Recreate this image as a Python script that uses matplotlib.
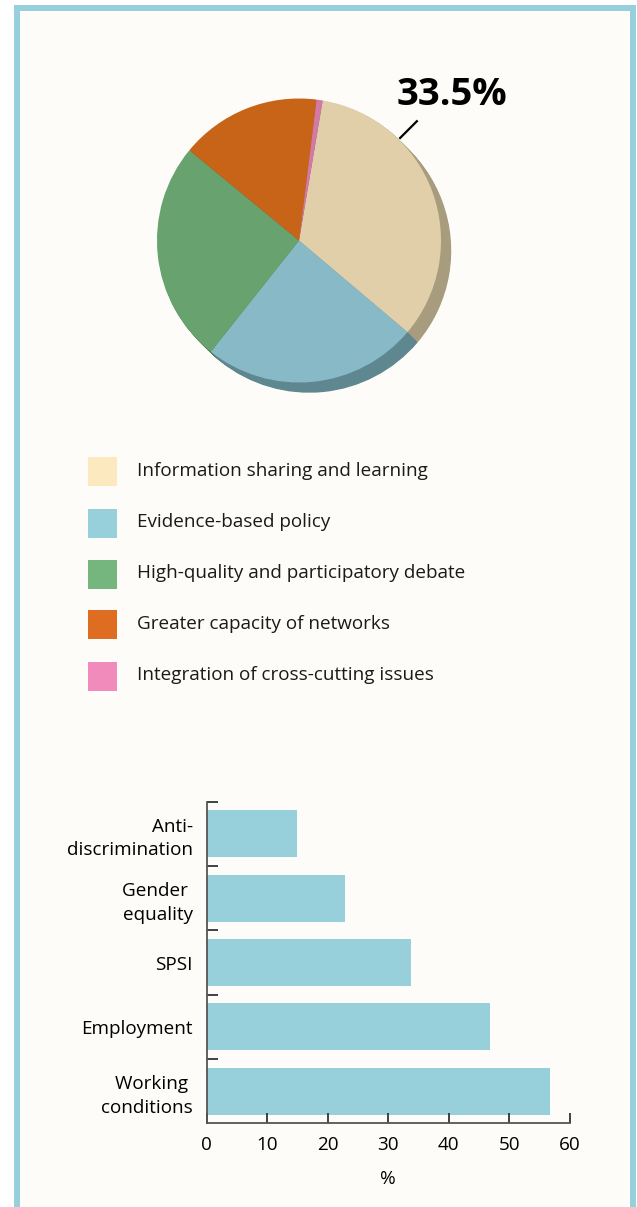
import matplotlib
matplotlib.use("Agg")
import matplotlib.pyplot as plt
from matplotlib.patches import Rectangle

plt.rcParams['font.family'] = ['Open Sans', 'DejaVu Sans']

# Pie: shares of reported outcomes (%), clockwise from the top
outcomes = ["Information sharing and learning",
            "Evidence-based policy",
            "High-quality and participatory debate",
            "Greater capacity of networks",
            "Integration of cross-cutting issues"]
shares = [33.5, 24.5, 25.3, 16.0, 0.7]

pie_colors = ["#e0cfa8", "#87b9c6", "#67a26f", "#c86418", "#d479a3"]
side_colors = ["#a89c7e", "#5f8790", "#4a7a52", "#8f4a12", "#9a5777"]
legend_colors = ["#fde9bf", "#97cfdb", "#75b67e", "#df6d21", "#f08bbb"]

# Bars: thematic areas (%)
themes = ["Working \nconditions", "Employment", "SPSI", "Gender \nequality", "Anti-\ndiscrimination"]
theme_pct = [56.7, 46.8, 33.7, 22.8, 14.9]
x_ticks = [0, 10, 20, 30, 40, 50, 60]

W, H = 637, 1207
fig = plt.figure(figsize=(W / 100, H / 100), dpi=100)
fig.patch.set_facecolor("white")

# panel background with blue frame
fig.patches.append(Rectangle((17 / W, -0.05), (632.5 - 17) / W, 1.05 - 8 / H,
                             transform=fig.transFigure, facecolor="#fdfcf8",
                             edgecolor="#96d0dc", linewidth=4.3, zorder=-5))

# ---- pie ----
cx, cy, r = 299, 240.5, 142
lim = 1.2
ax = fig.add_axes([(cx - lim * r) / W, 1 - (cy + lim * r) / H, 2 * lim * r / W, 2 * lim * r / H])

start = 90 - 9.6
depth = 0.072
n_layers = 14
for i in range(n_layers, 0, -1):
    off = depth * i / n_layers
    ax.pie(shares, colors=side_colors, startangle=start, counterclock=False,
           center=(off, -off), radius=1.0, frame=True,
           wedgeprops=dict(linewidth=0))
ax.pie(shares, colors=pie_colors, startangle=start, counterclock=False,
       center=(0, 0), radius=1.0, frame=True,
       wedgeprops=dict(linewidth=0))
ax.set_xlim(-lim, lim)
ax.set_ylim(-lim, lim)
ax.set_aspect("equal")
ax.axis("off")

ax.plot([0.712, 0.83], [0.722, 0.84], color="black", lw=1.6)
ax.text(0.69, 1.025, f"{shares[0]}%", fontsize=27.5, fontweight="bold",
        ha="left", va="center")

# ---- legend ----
leg_y = [471.5, 523, 574, 625, 676.5]
for name, col, y in zip(outcomes, legend_colors, leg_y):
    fig.patches.append(Rectangle((88 / W, 1 - (y + 14.5) / H), 29 / W, 29 / H,
                                 transform=fig.transFigure, facecolor=col,
                                 edgecolor="none"))
    fig.text(137 / W, 1 - (y - 1) / H, name, fontsize=13.6, ha="left", va="center",
             color="#1a1a1a")

# ---- bars ----
bx = fig.add_axes([206.7 / W, 1 - 1123.3 / H, (570 - 206.7) / W, (1123.3 - 801.7) / H])
bx.set_facecolor("none")
pos = list(range(len(themes)))
bx.barh(pos, theme_pct, height=0.73, color="#97cfdb")
bx.set_xlim(0, 60)
bx.set_ylim(-0.5, len(themes) - 0.5)
bx.set_xticks(x_ticks)
bx.set_xticklabels([str(t) for t in x_ticks], fontsize=13.6)
bx.set_yticks(pos)
bx.set_yticklabels(themes, fontsize=13.6, linespacing=1.4)
bx.set_yticks([p + 0.5 for p in pos], minor=True)
bx.tick_params(axis="y", which="major", length=0, pad=10)
bx.tick_params(axis="y", which="minor", direction="in", length=8, width=1.3, color="#333333")
bx.tick_params(axis="x", direction="in", length=7.5, width=1.3, color="#333333", pad=9)
for s in ("top", "right"):
    bx.spines[s].set_visible(False)
for s in ("left", "bottom"):
    bx.spines[s].set_color("#555555")
    bx.spines[s].set_linewidth(1.3)
bx.set_xlabel("%", fontsize=13.6, labelpad=12)

fig.savefig("out.png", dpi=100)
